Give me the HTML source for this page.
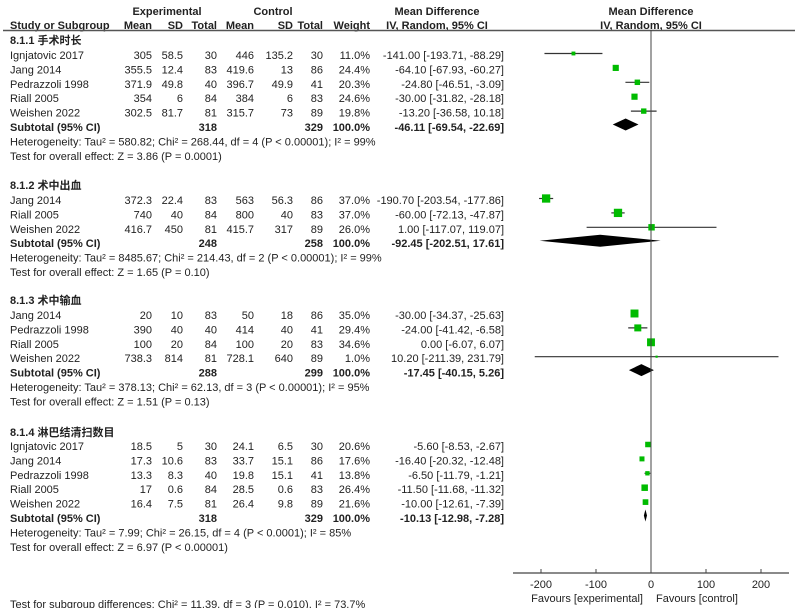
<!DOCTYPE html>
<html><head><meta charset="utf-8"><style>
body{margin:0;background:#fff}
svg{display:block;font-family:"Liberation Sans","Noto Sans CJK SC",sans-serif;font-size:11px;fill:#222}
.b{font-weight:bold}
</style></head><body>
<svg id="c" width="795" height="608" viewBox="0 0 795 608">
<text x="167" y="15" text-anchor="middle" class="b">Experimental</text>
<text x="273" y="15" text-anchor="middle" class="b">Control</text>
<text x="437" y="15" text-anchor="middle" class="b">Mean Difference</text>
<text x="651" y="15" text-anchor="middle" class="b">Mean Difference</text>
<text x="10" y="29" class="b">Study or Subgroup</text>
<text x="152" y="29" text-anchor="end" class="b">Mean</text>
<text x="183" y="29" text-anchor="end" class="b">SD</text>
<text x="217" y="29" text-anchor="end" class="b">Total</text>
<text x="254" y="29" text-anchor="end" class="b">Mean</text>
<text x="293" y="29" text-anchor="end" class="b">SD</text>
<text x="323" y="29" text-anchor="end" class="b">Total</text>
<text x="370" y="29" text-anchor="end" class="b">Weight</text>
<text x="437" y="29" text-anchor="middle" class="b">IV, Random, 95% CI</text>
<text x="651" y="29" text-anchor="middle" class="b">IV, Random, 95% CI</text>
<line x1="3" y1="30.5" x2="795" y2="30.5" stroke="#555" stroke-width="1.5"/>
<g id="rows"></g>
<g id="marks"></g>
<g id="axis"></g>
<text x="10" y="608">Test for subgroup differences: Chi² = 11.39, df = 3 (P = 0.010), I² = 73.7%</text>
</svg>
<script>
const groupTitles=["8.1.1 手术时长","8.1.2 术中出血","8.1.3 术中输血","8.1.4 淋巴结清扫数目"];
const studyNames=[["Ignjatovic 2017","Jang 2014","Pedrazzoli 1998","Riall 2005","Weishen 2022"],["Jang 2014","Riall 2005","Weishen 2022"],["Jang 2014","Pedrazzoli 1998","Riall 2005","Weishen 2022"],["Ignjatovic 2017","Jang 2014","Pedrazzoli 1998","Riall 2005","Weishen 2022"]];
const expMean=[["305","355.5","371.9","354","302.5"],["372.3","740","416.7"],["20","390","100","738.3"],["18.5","17.3","13.3","17","16.4"]];
const expSD=[["58.5","12.4","49.8","6","81.7"],["22.4","40","450"],["10","40","20","814"],["5","10.6","8.3","0.6","7.5"]];
const expN=[["30","83","40","84","81"],["83","84","81"],["83","40","84","81"],["30","83","40","84","81"]];
const ctlMean=[["446","419.6","396.7","384","315.7"],["563","800","415.7"],["50","414","100","728.1"],["24.1","33.7","19.8","28.5","26.4"]];
const ctlSD=[["135.2","13","49.9","6","73"],["56.3","40","317"],["18","40","20","640"],["6.5","15.1","15.1","0.6","9.8"]];
const ctlN=[["30","86","41","83","89"],["86","83","89"],["86","41","83","89"],["30","86","41","83","89"]];
const weights=[[11.0,24.4,20.3,24.6,19.8],[37.0,37.0,26.0],[35.0,29.4,34.6,1.0],[20.6,17.6,13.8,26.4,21.6]];
const md=[[-141.00,-64.10,-24.80,-30.00,-13.20],[-190.70,-60.00,1.00],[-30.00,-24.00,0.00,10.20],[-5.60,-16.40,-6.50,-11.50,-10.00]];
const lo=[[-193.71,-67.93,-46.51,-31.82,-36.58],[-203.54,-72.13,-117.07],[-34.37,-41.42,-6.07,-211.39],[-8.53,-20.32,-11.79,-11.68,-12.61]];
const hi=[[-88.29,-60.27,-3.09,-28.18,10.18],[-177.86,-47.87,119.07],[-25.63,-6.58,6.07,231.79],[-2.67,-12.48,-1.21,-11.32,-7.39]];
const subTotals=[["318","329"],["248","258"],["288","299"],["318","329"]];
const subMD=[-46.11,-92.45,-17.45,-10.13];
const subLo=[-69.54,-202.51,-40.15,-12.98];
const subHi=[-22.69,17.61,5.26,-7.28];
const hetText=["Heterogeneity: Tau² = 580.82; Chi² = 268.44, df = 4 (P < 0.00001); I² = 99%","Heterogeneity: Tau² = 8485.67; Chi² = 214.43, df = 2 (P < 0.00001); I² = 99%","Heterogeneity: Tau² = 378.13; Chi² = 62.13, df = 3 (P < 0.00001); I² = 95%","Heterogeneity: Tau² = 7.99; Chi² = 26.15, df = 4 (P < 0.0001); I² = 85%"];
const testText=["Test for overall effect: Z = 3.86 (P = 0.0001)","Test for overall effect: Z = 1.65 (P = 0.10)","Test for overall effect: Z = 1.51 (P = 0.13)","Test for overall effect: Z = 6.97 (P < 0.00001)"];
const xTicks=[-200,-100,0,100,200];

const NS="http://www.w3.org/2000/svg";
const xs=v=>651+v*0.55;
const groupTop=[40,185,300,432];
const groupFirst=[55,200,315,446];
const step=14.4;
const rows=document.getElementById('rows'),marks=document.getElementById('marks'),axis=document.getElementById('axis');
function mk(p,tag,at,txt){const e=document.createElementNS(NS,tag);for(const k in at)e.setAttribute(k,at[k]);if(txt!==undefined)e.textContent=txt;p.appendChild(e);return e;}
function t(x,y,s,anchor,bold){const e=mk(rows,'text',{x:x,y:y},s);if(anchor)e.setAttribute('text-anchor',anchor);if(bold)e.setAttribute('class','b');return e;}
const f2=v=>v.toFixed(2);
groupTitles.forEach((g,gi)=>{
  const h=t(10,groupTop[gi]+4,g,null,true);
  
  
  studyNames[gi].forEach((s,i)=>{
    const cy=groupFirst[gi]+i*step, by=cy+4;
    const n=t(10,by,s);
    
    
    t(152,by,expMean[gi][i],'end');t(183,by,expSD[gi][i],'end');t(217,by,expN[gi][i],'end');
    t(254,by,ctlMean[gi][i],'end');t(293,by,ctlSD[gi][i],'end');t(323,by,ctlN[gi][i],'end');
    t(370,by,weights[gi][i].toFixed(1)+'%','end');
    t(504,by,f2(md[gi][i])+' ['+f2(lo[gi][i])+', '+f2(hi[gi][i])+']','end');
    const my=cy-1.5;
    const l=mk(marks,'line',{x1:xs(lo[gi][i]),x2:xs(hi[gi][i]),y1:my,y2:my,stroke:'#333','stroke-width':1.2});
    
    
    const sz=weights[gi][i]*0.17+2;
    const r=mk(marks,'rect',{x:xs(md[gi][i])-sz/2,y:my-sz/2,width:sz,height:sz,fill:'#00bb00'});
    
    
  });
  const sy=groupFirst[gi]+studyNames[gi].length*step, sb=sy+4;
  const st=t(10,sb,'Subtotal (95% CI)',null,true);
  
  
  t(217,sb,subTotals[gi][0],'end',true);t(323,sb,subTotals[gi][1],'end',true);t(370,sb,'100.0%','end',true);
  t(504,sb,f2(subMD[gi])+' ['+f2(subLo[gi])+', '+f2(subHi[gi])+']','end',true);
  const dy=sy-2.5;
  const d=mk(marks,'polygon',{points:`${xs(subLo[gi])},${dy} ${xs(subMD[gi])},${dy-6} ${xs(subHi[gi])},${dy} ${xs(subMD[gi])},${dy+6}`,fill:'#000'});
  
  
  const he=t(10,sb+step,hetText[gi]);
  
  
  const te=t(10,sb+2*step,testText[gi]);
  
  
});
const zl=mk(axis,'line',{x1:xs(0),x2:xs(0),y1:30,y2:573,stroke:'#444','stroke-width':1});


const al=mk(axis,'line',{x1:513,x2:789,y1:573,y2:573,stroke:'#444','stroke-width':1.2});


xTicks.forEach(v=>{
  mk(axis,'line',{x1:xs(v),x2:xs(v),y1:569,y2:573,stroke:'#444'});
  const tl=mk(axis,'text',{x:xs(v),y:588,'text-anchor':'middle'},String(v));
  
  
});
const fe=mk(axis,'text',{x:643,y:602,'text-anchor':'end'},'Favours [experimental]');


const fc=mk(axis,'text',{x:656,y:602},'Favours [control]');


</script>
</body></html>
